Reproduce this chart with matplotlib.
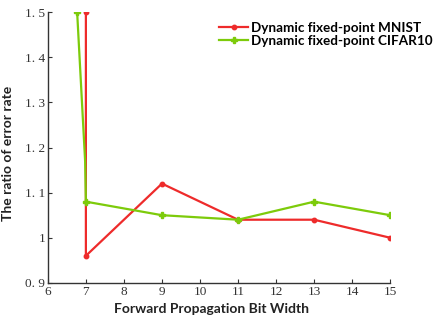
import matplotlib.pyplot as plt

# data
mnist_x = [7, 7, 9, 11, 13, 15]
mnist_y = [1.5, 0.96, 1.12, 1.04, 1.04, 1.0]
cifar_x = [6.77, 6.98, 7, 9, 11, 13, 15]
cifar_y = [1.5, 1.17, 1.08, 1.05, 1.04, 1.08, 1.05]
x_ticks = list(range(6, 16))
y_ticks = [0.9, 1.0, 1.1, 1.2, 1.3, 1.4, 1.5]
y_tick_labels = ['0. 9', '1', '1. 1', '1. 2', '1. 3', '1. 4', '1. 5']

red = '#EE2B2B'
green = '#7DCB0B'

fig = plt.figure(figsize=(4.35, 3.2), dpi=100)
ax = fig.add_axes([0.110, 0.116, 0.787, 0.846])

ax.plot(mnist_x, mnist_y, color=red, lw=1.6, marker='o', ms=3.2,
        label='Dynamic fixed-point MNIST')
ax.plot(cifar_x, cifar_y, color=green, lw=1.6, marker='P', ms=5,
        markevery=[0, 2, 3, 4, 5, 6], label='Dynamic fixed-point CIFAR10')

ax.set_xlim(6, 15)
ax.set_ylim(0.9, 1.5)
ax.set_xticks(x_ticks)
ax.set_yticks(y_ticks)
ax.set_yticklabels(y_tick_labels)
for s in ['top', 'right']:
    ax.spines[s].set_visible(False)
for s in ['left', 'bottom']:
    ax.spines[s].set_color('#333333')
    ax.spines[s].set_linewidth(1.0)
ax.tick_params(direction='in', length=3, width=0.8, colors='#333333',
               labelsize=9.5, pad=2)
for lab in ax.get_xticklabels() + ax.get_yticklabels():
    lab.set_family('Liberation Serif')

ax.set_xlabel('Forward Propagation Bit Width', fontsize=10,
              fontweight='bold', family='Lato', color='#222222')
ax.xaxis.set_label_coords(0.477, -0.075)
ax.set_ylabel('The ratio of error rate', fontsize=10, fontweight='bold',
              family='Lato', color='#222222')
ax.yaxis.set_label_coords(-0.1, 0.48)

leg = ax.legend(loc='upper right', bbox_to_anchor=(1.14, 0.985), frameon=False,
                prop={'family': 'Lato', 'weight': 'bold', 'size': 9.7},
                handlelength=2.2, handletextpad=0.2, labelspacing=0.1,
                borderaxespad=0)

fig.savefig('out.png', dpi=100)
